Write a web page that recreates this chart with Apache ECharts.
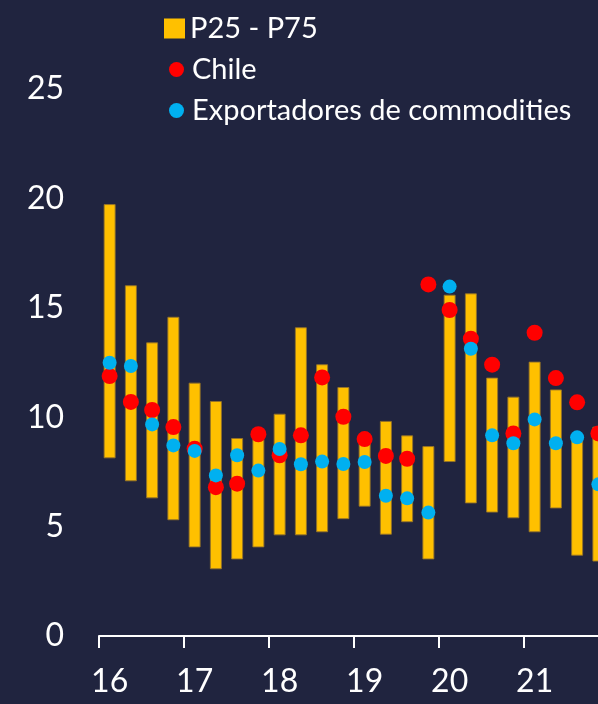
<!DOCTYPE html>
<html>
<head>
<meta charset="utf-8">
<script src="https://cdn.jsdelivr.net/npm/echarts@6/dist/echarts.min.js"></script>
<style>
html,body{margin:0;padding:0;background:#20243F;overflow:hidden;}
#chart{width:609px;height:704px;}
</style>
</head>
<body>
<div id="chart"></div>
<script>
const quarters = ['2016T1','2016T2','2016T3','2016T4','2017T1','2017T2','2017T3','2017T4',
  '2018T1','2018T2','2018T3','2018T4','2019T1','2019T2','2019T3','2019T4',
  '2020T1','2020T2','2020T3','2020T4','2021T1','2021T2','2021T3','2021T4'];
const p25 = [8.12,7.07,6.29,5.29,4.05,3.05,3.50,4.05,4.60,4.60,4.74,5.34,5.91,4.63,5.20,3.50,7.95,6.06,5.64,5.38,4.74,5.83,3.67,3.40];
const p75 = [19.74,16.03,13.42,14.59,11.58,10.74,9.05,9.00,10.16,14.11,12.42,11.38,8.85,9.83,9.17,8.68,15.60,15.66,11.81,10.94,12.54,11.27,8.95,9.57];
const chile = [11.88,10.70,10.33,9.55,8.56,6.80,6.96,9.22,8.26,9.17,11.82,10.02,9.00,8.23,8.10,16.07,14.90,13.59,12.40,9.26,13.86,11.79,10.68,9.26];
const exportadores = [12.49,12.34,9.67,8.71,8.46,7.34,8.26,7.56,8.55,7.85,7.97,7.86,7.95,6.41,6.29,5.64,15.97,13.13,9.17,8.81,9.90,8.81,9.08,6.93];
const yearLabels = ['16','17','18','19','20','21'];

const FONT = 'Lato';
const chart = echarts.init(document.getElementById('chart'));
chart.setOption({
  backgroundColor: '#20243F',
  animation: false,
  textStyle: {fontFamily: FONT, color: '#ffffff'},
  grid: {left: 99, right: 0, top: 89, bottom: 68, containLabel: false},
  legend: [
    {
      data: [{name: 'P25 - P75', icon: 'rect'}], orient: 'vertical', left: 159, top: 9,
      itemWidth: 21, itemHeight: 20, itemGap: 13,
      itemStyle: {borderWidth: 0},
      textStyle: {color: '#ffffff', fontSize: 29, fontFamily: FONT}
    },
    {
      data: ['Chile', 'Exportadores de commodities'], orient: 'vertical', left: 164, top: 50,
      itemWidth: 21, itemHeight: 15, itemGap: 12,
      textStyle: {color: '#ffffff', fontSize: 29, fontFamily: FONT}
    }
  ],
  xAxis: {
    type: 'category', data: quarters, boundaryGap: true,
    axisLine: {lineStyle: {color: '#ffffff', width: 2}},
    axisTick: {show: true, interval: 3, length: 12, lineStyle: {color: '#ffffff', width: 2}},
    axisLabel: {
      interval: 3, color: '#ffffff', fontSize: 32, margin: 30, fontFamily: FONT,
      formatter: (v, i) => yearLabels[Math.floor(i / 4)]
    },
    splitLine: {show: false}
  },
  yAxis: {
    type: 'value', min: 0, max: 25, interval: 5,
    axisLine: {show: false}, axisTick: {show: false}, splitLine: {show: false},
    axisLabel: {color: '#ffffff', fontSize: 32, margin: 35, fontFamily: FONT}
  },
  series: [
    {
      name: 'base', type: 'bar', stack: 'range', data: p25, barWidth: 12,
      itemStyle: {color: 'transparent'}, silent: true, legendHoverLink: false
    },
    {
      name: 'P25 - P75', type: 'bar', stack: 'range', barWidth: 12,
      data: p75.map((v, i) => +(v - p25[i]).toFixed(2)),
      itemStyle: {color: '#FFC000', borderColor: 'rgba(150,115,40,0.9)', borderWidth: 1}
    },
    {
      name: 'Chile', type: 'scatter', data: chile, symbol: 'circle', symbolSize: 16,
      itemStyle: {color: '#FF0000', opacity: 1}, z: 3
    },
    {
      name: 'Exportadores de commodities', type: 'scatter', data: exportadores, symbol: 'circle', symbolSize: 14,
      itemStyle: {color: '#00B0F0', opacity: 1}, z: 4
    }
  ]
});
</script>
</body>
</html>
